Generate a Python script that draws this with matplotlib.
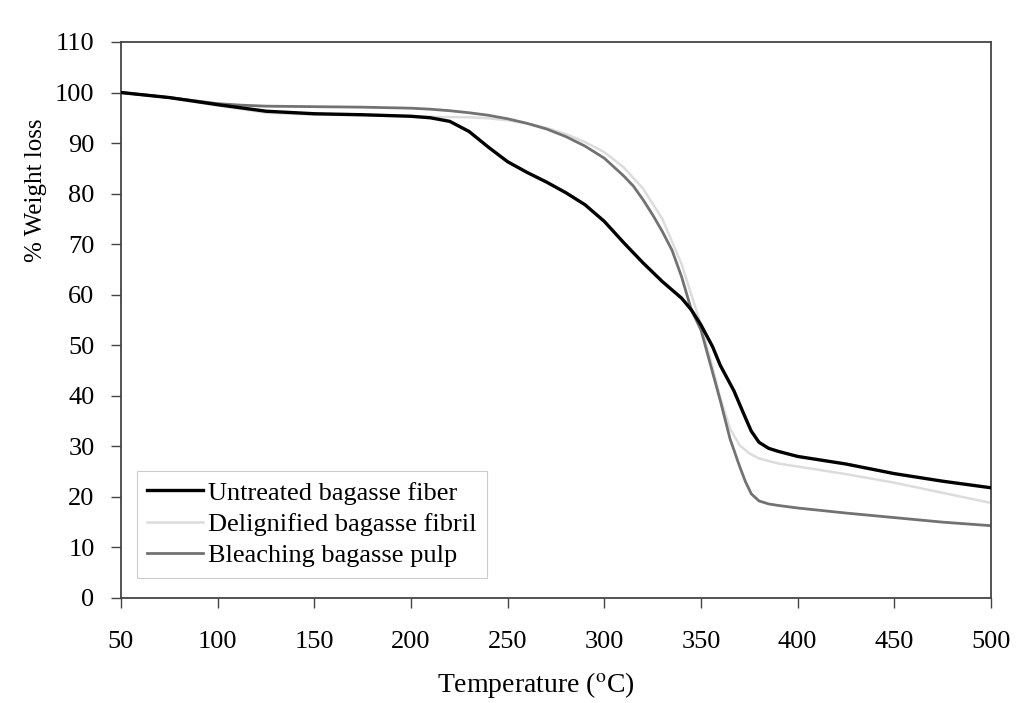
import matplotlib
matplotlib.use("Agg")
import matplotlib.pyplot as plt

plt.rcParams['font.family'] = ['Liberation Serif', 'DejaVu Serif']
plt.rcParams['mathtext.fontset'] = 'stix'

# Untreated bagasse fiber
temp_untreated = [50, 75, 100, 125, 150, 175, 200, 210, 220, 230, 240, 250, 260,
                  270, 280, 290, 300, 310, 320, 330, 340, 345, 350, 356, 360, 367,
                  372, 376, 380, 385, 390, 400, 425, 450, 475, 500]
untreated = [100, 99, 97.6, 96.3, 95.8, 95.6, 95.3, 95.0, 94.3, 92.3, 89.2, 86.3, 84.2,
             82.3, 80.2, 77.8, 74.5, 70.3, 66.3, 62.6, 59.3, 57, 54, 49.7, 46, 41,
             36.5, 33, 30.8, 29.6, 29, 28, 26.5, 24.6, 23.1, 21.8]

# Delignified bagasse fibril
temp_delig = [50, 75, 100, 125, 150, 175, 200, 210, 230, 240, 250, 260, 270, 280, 290,
              300, 310, 320, 330, 340, 345, 350, 355, 360, 365, 370, 375, 380, 390,
              400, 425, 450, 475, 500]
delignified = [100, 99, 97.4, 96.0, 95.6, 95.5, 95.3, 95.2, 95.1, 94.9, 94.5, 93.9, 93.0,
               91.8, 90.2, 88.2, 85.2, 81, 75, 66, 60, 54, 47, 39.5, 33.5, 30.2, 28.6,
               27.6, 26.6, 26, 24.5, 22.8, 20.8, 18.8]

# Bleaching bagasse pulp
temp_bleach = [50, 75, 100, 112, 125, 150, 175, 200, 210, 220, 230, 240, 250, 260, 270,
               280, 290, 300, 310, 315, 320, 325, 330, 335, 340, 345, 350, 355, 360,
               365, 370, 373, 376, 380, 385, 390, 400, 425, 450, 475, 500]
bleaching = [100, 99, 97.8, 97.5, 97.3, 97.2, 97.1, 96.9, 96.7, 96.4, 96.0, 95.5, 94.8,
             93.9, 92.8, 91.3, 89.4, 87, 83.5, 81.5, 78.8, 75.8, 72.5, 68.8, 63.5, 57,
             53, 46, 39, 31.5, 26, 23, 20.6, 19.2, 18.6, 18.3, 17.8, 16.8, 15.9, 15, 14.3]

fig = plt.figure(figsize=(10.2, 7.03), dpi=100)
ax = fig.add_axes([0.1186, 0.1494, 0.853, 0.7909])

ax.plot(temp_untreated, untreated, color='black', linewidth=2.4,
        label='Untreated bagasse fiber', zorder=3)
ax.plot(temp_delig, delignified, color='#dcdcdc', linewidth=1.8,
        label='Delignified bagasse fibril', zorder=2)
ax.plot(temp_bleach, bleaching, color='#727272', linewidth=2.0,
        label='Bleaching bagasse pulp', zorder=2)

ax.set_xlim(50, 500)
ax.set_ylim(0, 110)
ax.set_xticks(range(50, 501, 50))
ax.set_yticks(range(0, 111, 10))
ax.tick_params(direction='out', length=7, width=1, labelsize=19, color='#444444')
ax.tick_params(axis='x', pad=17)
ax.tick_params(axis='y', pad=12)
for s in ax.spines.values():
    s.set_color('#444444')
    s.set_linewidth(1.3)

fig.text(0.035, 0.73, '% Weight loss', rotation=90, fontsize=18,
         ha='center', va='center')
fig.text(0.525, 0.026, 'Temperature ($^{\\rm o}$C)', fontsize=20,
         ha='center', va='center')

leg = ax.legend(loc='lower left', bbox_to_anchor=(0.018, 0.036), borderaxespad=0,
                fontsize=19, handlelength=2.1, fancybox=False, framealpha=1,
                labelspacing=0.3, borderpad=0.4, handletextpad=0.2)
leg.get_frame().set_edgecolor('#cccccc')
leg.get_frame().set_linewidth(0.8)

fig.savefig('out.png', dpi=100)
